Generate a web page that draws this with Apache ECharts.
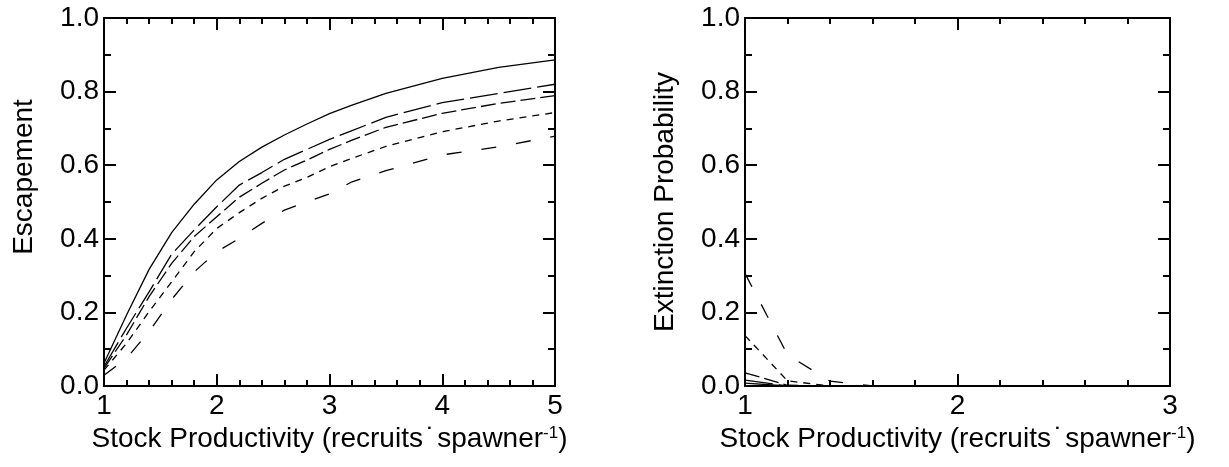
<!DOCTYPE html>
<html><head><meta charset="utf-8">
<script src="https://cdn.jsdelivr.net/npm/echarts@6/dist/echarts.min.js"></script>
<style>html,body{margin:0;padding:0;background:#fff}#c{width:1229px;height:467px}</style>
</head><body><div id="c"></div>
<script>
// ---- data ----
const productivityLeft = [1, 1.2, 1.4, 1.6, 1.8, 2, 2.2, 2.4, 2.6, 2.8, 3, 3.2, 3.5, 4, 4.5, 5];
const escapeA = [0.062, 0.193, 0.317, 0.417, 0.494, 0.560, 0.610, 0.649, 0.682, 0.712, 0.740, 0.763, 0.795, 0.836, 0.866, 0.886];
const escapeB = [0.053, 0.157, 0.256, 0.358, 0.424, 0.487, 0.546, 0.580, 0.616, 0.643, 0.670, 0.694, 0.730, 0.770, 0.795, 0.820];
const escapeC = [0.048, 0.139, 0.243, 0.333, 0.406, 0.460, 0.513, 0.551, 0.587, 0.614, 0.643, 0.668, 0.703, 0.741, 0.768, 0.789];
const escapeD = [0.043, 0.116, 0.202, 0.283, 0.365, 0.428, 0.471, 0.510, 0.543, 0.567, 0.596, 0.619, 0.651, 0.691, 0.720, 0.743];
const escapeE = [0.029, 0.075, 0.148, 0.235, 0.310, 0.365, 0.401, 0.442, 0.478, 0.500, 0.522, 0.555, 0.585, 0.628, 0.650, 0.679];

const productivityRight = [1, 1.2, 1.4, 1.6, 1.8, 2, 2.2, 2.4, 2.6, 2.8, 3];
const extinctA = [0.008, 0, 0, 0, 0, 0, 0, 0, 0, 0, 0];
const extinctB = [0.016, 0, 0, 0, 0, 0, 0, 0, 0, 0, 0];
const extinctC = [0.036, 0.002, 0, 0, 0, 0, 0, 0, 0, 0, 0];
const extinctD = [0.137, 0.014, 0, 0, 0, 0, 0, 0, 0, 0, 0];
const extinctE = [0.306, 0.085, 0.013, 0, 0, 0, 0, 0, 0, 0, 0];

const yTickLabels = ['0.0', '0.2', '0.4', '0.6', '0.8', '1.0'];
const xTitle = '{a|Stock Productivity (recruits}{d|˙}{a|spawner}{s|-1}{a|)}';
const leftYTitle = 'Escapement';
const rightYTitle = 'Extinction Probability';

// ---- styling ----
const FONT = 'Liberation Sans, Arial, sans-serif';
const FS = 28;
const dashes = ['solid', [28, 6], [15, 5], [7, 6], [15, 20]];

function pairs(xs, ys) { return xs.map((x, i) => [x, ys[i]]); }

function xAxis(grid, max, pos, withLabels) {
  return {
    type: 'value', gridIndex: grid, position: pos, min: 1, max: max, interval: 1,
    axisLine: { show: true, onZero: false, lineStyle: { color: '#000', width: 2 } },
    axisTick: { show: true, inside: true, length: 12, lineStyle: { color: '#000', width: 2 } },
    minorTick: { show: true, splitNumber: 5, length: 6, lineStyle: { color: '#000', width: 2 } },
    splitLine: { show: false }, minorSplitLine: { show: false },
    axisLabel: { show: withLabels, color: '#000', fontFamily: FONT, fontSize: FS, margin: 6 },
    name: withLabels ? xTitle : '', nameLocation: 'middle', nameGap: 36,
    nameTextStyle: {
      rich: {
        a: { fontFamily: FONT, fontSize: FS, color: '#000' },
        d: { fontFamily: FONT, fontSize: FS, color: '#000', padding: [0, 2, 0, 3] },
        s: { fontFamily: FONT, fontSize: 17, color: '#000', verticalAlign: 'top' }
      }
    }
  };
}
function yAxis(grid, pos, withLabels, name, pad) {
  return {
    type: 'value', gridIndex: grid, position: pos, min: 0, max: 1, interval: 0.2,
    axisLine: { show: true, onZero: false, lineStyle: { color: '#000', width: 2 } },
    axisTick: { show: true, inside: true, length: 12, lineStyle: { color: '#000', width: 2 } },
    minorTick: { show: true, splitNumber: 2, length: 7, lineStyle: { color: '#000', width: 2 } },
    splitLine: { show: false }, minorSplitLine: { show: false },
    axisLabel: { show: withLabels, color: '#000', fontFamily: FONT, fontSize: FS, margin: 5,
      formatter: v => yTickLabels[Math.round(v / 0.2)] },
    name: withLabels ? name : '', nameLocation: 'middle', nameGap: 66,
    nameTextStyle: { color: '#000', fontFamily: FONT, fontSize: FS, padding: pad }
  };
}

function lineSeries(xi, yi, xs, ys, k) {
  return {
    type: 'line', xAxisIndex: xi, yAxisIndex: yi, data: pairs(xs, ys),
    showSymbol: false, symbol: 'none', silent: true, clip: true,
    lineStyle: { color: '#000', width: 1.3, type: dashes[k] }
  };
}

const chart = echarts.init(document.getElementById('c'), null, { renderer: 'canvas' });
chart.setOption({
  animation: false,
  backgroundColor: '#fff',
  grid: [
    { left: 104, top: 18, width: 451, height: 368, containLabel: false },
    { left: 745, top: 18, width: 425, height: 368, containLabel: false }
  ],
  xAxis: [xAxis(0, 5, 'bottom', true), xAxis(0, 5, 'top', false), xAxis(1, 3, 'bottom', true), xAxis(1, 3, 'top', false)],
  yAxis: [yAxis(0, 'left', true, leftYTitle, [0, 0, 0, 50]), yAxis(0, 'right', false, '', 0),
          yAxis(1, 'left', true, rightYTitle, 0), yAxis(1, 'right', false, '', 0)],
  series: [
    lineSeries(0, 0, productivityLeft, escapeA, 0),
    lineSeries(0, 0, productivityLeft, escapeB, 1),
    lineSeries(0, 0, productivityLeft, escapeC, 2),
    lineSeries(0, 0, productivityLeft, escapeD, 3),
    lineSeries(0, 0, productivityLeft, escapeE, 4),
    lineSeries(2, 2, productivityRight, extinctA, 0),
    lineSeries(2, 2, productivityRight, extinctB, 1),
    lineSeries(2, 2, productivityRight, extinctC, 2),
    lineSeries(2, 2, productivityRight, extinctD, 3),
    lineSeries(2, 2, productivityRight, extinctE, 4)
  ]
});
</script></body></html>
